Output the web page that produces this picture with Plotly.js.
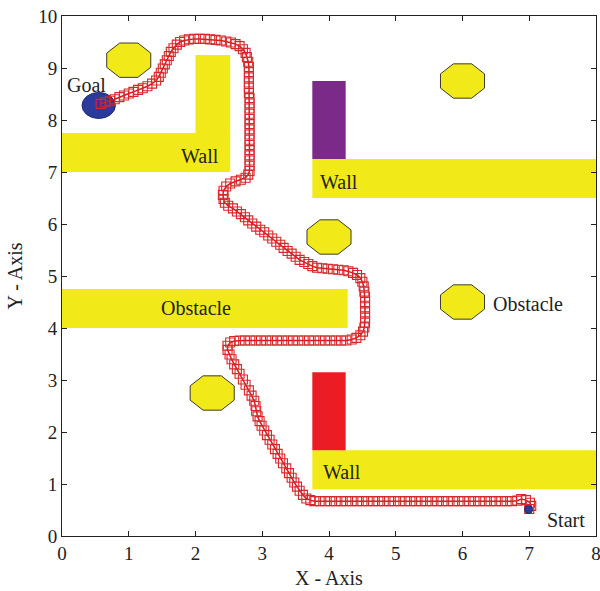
<!DOCTYPE html>
<html>
<head>
<meta charset="utf-8">
<script src="https://cdn.plot.ly/plotly-3.0.1.min.js"></script>
<style>html,body{margin:0;padding:0;background:#fff;}#chart{width:600px;height:591px;}</style>
</head>
<body>
<div id="chart"></div>
<script>
// ---- Data ----
// Robot path from Start (7, 0.5) to Goal (0.55, 8.3)
const pathX = [
  7.00,7.03,7.01,6.95,6.88,6.82,
  6.74,6.66,6.58,6.50,6.42,6.34,6.26,6.18,6.10,6.02,5.94,5.86,5.78,5.70,5.62,5.54,5.46,5.38,5.30,5.22,5.14,5.06,4.98,4.90,4.82,4.74,4.66,4.58,4.50,4.42,4.34,4.26,4.18,4.10,4.02,3.94,3.86,3.78,
  3.72,3.66,3.61,3.56,3.52,3.48,3.44,3.40,3.36,3.31,3.27,3.23,3.19,3.15,3.11,3.07,3.03,2.99,2.96,2.93,2.91,2.90,2.88,2.84,2.80,2.75,2.71,2.66,2.62,2.58,2.54,2.51,2.48,2.48,2.52,2.58,
  2.66,2.74,2.82,2.90,2.98,3.06,3.14,3.22,3.30,3.38,3.46,3.54,3.62,3.70,3.78,3.86,3.94,4.02,4.10,4.18,4.26,4.34,4.41,4.47,4.51,4.53,
  4.54,4.54,4.54,4.54,4.54,4.54,4.53,4.52,4.50,4.47,4.42,4.36,4.29,4.22,4.14,4.06,3.98,3.90,3.82,3.75,3.69,3.63,3.56,
  3.50,3.44,3.38,3.32,3.27,3.21,3.15,3.09,3.03,2.97,2.91,2.85,2.79,2.74,2.68,2.62,2.56,2.49,2.44,2.42,2.41,2.42,2.46,2.52,2.60,2.68,2.75,2.79,
  2.81,2.81,2.81,2.81,2.81,2.81,2.81,2.81,2.81,2.81,2.81,2.81,2.81,2.81,2.81,2.80,2.80,2.80,2.80,2.80,2.80,
  2.79,2.77,2.75,2.71,2.66,2.60,2.53,2.46,2.38,2.30,2.22,2.14,2.06,1.98,1.90,1.83,1.77,1.72,1.67,1.63,1.60,1.57,1.54,1.51,1.48,1.45,1.41,1.35,1.28,1.21,1.14,1.07,1.00,0.93,0.86,0.79,0.72,0.65,0.58
];
const pathY = [
  0.52,0.58,0.64,0.69,0.71,0.68,
  0.67,0.67,0.67,0.67,0.67,0.67,0.67,0.67,0.67,0.67,0.67,0.67,0.67,0.67,0.67,0.67,0.67,0.67,0.67,0.67,0.67,0.67,0.67,0.67,0.67,0.67,0.67,0.67,0.67,0.67,0.67,0.67,0.67,0.67,0.67,0.67,0.67,0.67,
  0.69,0.72,0.79,0.87,0.95,1.03,1.12,1.21,1.30,1.40,1.49,1.58,1.67,1.76,1.85,1.94,2.03,2.12,2.21,2.30,2.40,2.50,2.60,2.70,2.80,2.91,3.01,3.12,3.21,3.30,3.40,3.49,3.58,3.66,3.72,3.75,
  3.76,3.76,3.76,3.76,3.76,3.76,3.76,3.76,3.76,3.76,3.76,3.76,3.76,3.76,3.76,3.76,3.76,3.76,3.76,3.76,3.76,3.78,3.81,3.86,3.93,4.01,
  4.10,4.20,4.30,4.40,4.50,4.60,4.70,4.80,4.89,4.96,5.02,5.06,5.09,5.11,5.12,5.13,5.14,5.15,5.16,5.19,5.23,5.27,5.31,
  5.37,5.43,5.48,5.54,5.60,5.66,5.72,5.78,5.84,5.89,5.95,6.01,6.07,6.13,6.19,6.24,6.30,6.35,6.41,6.48,6.56,6.64,6.72,6.78,6.82,6.85,6.89,6.95,
  7.02,7.12,7.22,7.32,7.42,7.52,7.62,7.72,7.82,7.92,8.02,8.12,8.22,8.32,8.42,8.52,8.62,8.72,8.82,8.92,9.02,
  9.12,9.21,9.29,9.36,9.42,9.46,9.49,9.51,9.53,9.54,9.55,9.56,9.56,9.56,9.55,9.53,9.50,9.45,9.38,9.31,9.23,9.15,9.07,8.99,8.91,8.83,8.76,8.70,8.65,8.61,8.58,8.54,8.51,8.47,8.44,8.40,8.37,8.34,8.31
];

// Rectangular walls / obstacles: [x0, x1, y0, y1]
const wallX0 = [0.00, 2.00, 3.75, 0.00, 3.75];
const wallX1 = [2.52, 2.52, 8.00, 4.28, 8.00];
const wallY0 = [7.00, 7.70, 6.50, 4.00, 0.90];
const wallY1 = [7.75, 9.25, 7.25, 4.75, 1.65];

// Coloured blocks
const blockX0 = [3.75, 3.75];
const blockX1 = [4.25, 4.25];
const blockY0 = [7.25, 1.65];
const blockY1 = [8.75, 3.15];
const blockColor = ['#7b2a8a', '#ec1c24'];

// Octagonal obstacles (centre) and half-width across flats
const octX = [1.00, 6.00, 4.00, 6.00, 2.25];
const octY = [9.15, 8.75, 5.75, 4.50, 2.75];
const octR = 0.33;

// Goal and start
const goalX = 0.55, goalY = 8.28, goalR = 0.25;
const startX = [6.99], startY = [0.51];

// Labels
const labelText = ['Goal', 'Wall', 'Wall', 'Obstacle', 'Obstacle', 'Wall', 'Start'];
const labelX = [0.37, 2.06, 4.15, 2.00, 6.43, 4.20, 7.24];
const labelY = [8.68, 7.30, 6.80, 4.38, 4.47, 1.24, 0.31];
const labelAnchor = ['center', 'center', 'center', 'center', 'left', 'center', 'left'];

// ---- Build ----
const YELLOW = '#f1ea18';
const FONT = 'Liberation Serif, Times New Roman, serif';
const shapes = [];
for (let i = 0; i < wallX0.length; i++) {
  shapes.push({type: 'rect', xref: 'x', yref: 'y', x0: wallX0[i], x1: wallX1[i], y0: wallY0[i], y1: wallY1[i],
    fillcolor: YELLOW, line: {width: 0}, layer: 'below'});
}
for (let i = 0; i < blockX0.length; i++) {
  shapes.push({type: 'rect', xref: 'x', yref: 'y', x0: blockX0[i], x1: blockX1[i], y0: blockY0[i], y1: blockY1[i],
    fillcolor: blockColor[i], line: {width: 0}, layer: 'below'});
}
const rv = octR / Math.cos(Math.PI / 8);
for (let i = 0; i < octX.length; i++) {
  let d = '';
  for (let k = 0; k < 8; k++) {
    const a = Math.PI / 8 + k * Math.PI / 4;
    const px = octX[i] + rv * Math.cos(a), py = octY[i] + rv * Math.sin(a);
    d += (k === 0 ? 'M' : 'L') + px.toFixed(4) + ',' + py.toFixed(4);
  }
  d += 'Z';
  shapes.push({type: 'path', xref: 'x', yref: 'y', path: d, fillcolor: YELLOW, line: {color: '#3a3a2a', width: 1}, layer: 'below'});
}
shapes.push({type: 'circle', xref: 'x', yref: 'y', x0: goalX - goalR, x1: goalX + goalR, y0: goalY - goalR, y1: goalY + goalR,
  fillcolor: '#2b3b9b', line: {color: '#1c2674', width: 1}, layer: 'below'});

const annotations = labelText.map((t, i) => ({
  x: labelX[i], y: labelY[i], xref: 'x', yref: 'y', text: t, showarrow: false,
  xanchor: labelAnchor[i], yanchor: 'middle', font: {family: FONT, size: 20, color: '#222'}
}));

const traces = [
  {x: pathX, y: pathY, type: 'scatter', mode: 'lines+markers',
   line: {color: '#e0141a', width: 1.5},
   marker: {symbol: 'square-open', size: 9, color: '#d8262a', line: {width: 1.1}},
   hoverinfo: 'skip', showlegend: false},
  {x: startX, y: startY, type: 'scatter', mode: 'markers',
   marker: {symbol: 'circle', size: 8, color: '#2b3b9b', line: {color: '#1c2674', width: 1}},
   showlegend: false}
];

const axisCommon = {
  showgrid: false, zeroline: false, showline: true, linecolor: '#222', linewidth: 1,
  mirror: 'ticks', ticks: 'inside', ticklen: 5, tickcolor: '#222', dtick: 1,
  ticklabeloverflow: 'allow',
  tickfont: {family: FONT, size: 19, color: '#222'}
};

const layout = {
  width: 600, height: 591,
  margin: {l: 62, r: 4, t: 16, b: 55},
  paper_bgcolor: '#fff', plot_bgcolor: '#fff',
  xaxis: Object.assign({}, axisCommon, {range: [0, 8], title: {text: 'X - Axis', font: {family: FONT, size: 20, color: '#222'}, standoff: 8}}),
  yaxis: Object.assign({}, axisCommon, {range: [0, 10], title: {text: 'Y - Axis', font: {family: FONT, size: 20, color: '#222'}, standoff: 10}}),
  shapes: shapes,
  annotations: annotations
};

Plotly.newPlot('chart', traces, layout, {displayModeBar: false, staticPlot: true});
</script>
</body>
</html>
